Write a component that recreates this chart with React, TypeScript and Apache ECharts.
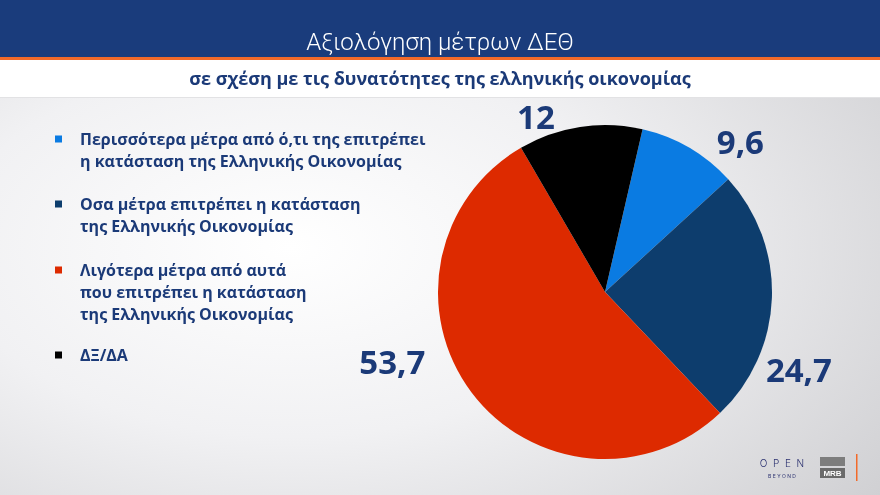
import React, { useEffect, useRef } from "react";
import * as echarts from "echarts";

const categories = [
  "Περισσότερα μέτρα από ό,τι της επιτρέπει\nη κατάσταση της Ελληνικής Οικονομίας",
  "Οσα μέτρα επιτρέπει η κατάσταση\nτης Ελληνικής Οικονομίας",
  "Λιγότερα μέτρα από αυτά\nπου επιτρέπει η κατάσταση\nτης Ελληνικής Οικονομίας",
  "ΔΞ/ΔΑ",
];
const values = [9.6, 24.7, 53.7, 12];
const sliceColors = ["#0a7be2", "#0d3d6d", "#dd2a00", "#000000"];
const titleText = "Αξιολόγηση μέτρων ΔΕΘ";
const subtitleText = "σε σχέση με τις δυνατότητες της ελληνικής οικονομίας";

// label nudges (style only)
const labelNudge = [
  [15, 7],
  [-26, 71],
  [-29, -40],
  [-18, 4],
];

const NAVY = "#1b3a78";

const iconPath = (h: number) => `path://M0,0L7,0L7,7L0,7Z M20,${h}L19.99,${h}`;

export default function App() {
  const ref = useRef<HTMLDivElement>(null);
  useEffect(() => {
    if (!ref.current) return;
    const chart = echarts.init(ref.current, null, { renderer: "svg" });
    const legendCommon = {
      orient: "vertical" as const,
      left: 55,
      padding: 0,
      itemWidth: 20,
      selectedMode: false,
      itemStyle: { borderWidth: 0 },
      textStyle: {
        color: NAVY,
        fontWeight: "bold" as const,
        fontSize: 16,
        lineHeight: 22,
        fontFamily: "Open Sans",
      },
    };
    chart.setOption({
      animation: false,
      backgroundColor: {
        type: "radial",
        x: 0.33,
        y: 0.5,
        r: 0.85,
        colorStops: [
          { offset: 0, color: "#ffffff" },
          { offset: 0.45, color: "#f1f1f3" },
          { offset: 1, color: "#cfcfd2" },
        ],
      },
      graphic: [
        { type: "rect", shape: { x: 0, y: 0, width: 880, height: 57 }, style: { fill: "#1a3c7c" } },
        { type: "rect", shape: { x: 0, y: 57, width: 880, height: 3 }, style: { fill: "#f26a2a" } },
        { type: "rect", shape: { x: 0, y: 60, width: 880, height: 38 }, style: { fill: "#ffffff" } },
        { type: "rect", shape: { x: 0, y: 97, width: 880, height: 1 }, style: { fill: "#e2e2e4" } },
        {
          type: "text",
          x: 440,
          y: 42,
          style: {
            text: titleText,
            fill: "#ffffff",
            fontSize: 24,
            fontWeight: 300,
            fontFamily: "Roboto",
            align: "center",
            verticalAlign: "middle",
          },
        },
        {
          type: "text",
          x: 440,
          y: 78,
          style: {
            text: subtitleText,
            fill: NAVY,
            fontSize: 18,
            fontWeight: "bold",
            fontFamily: "Open Sans",
            align: "center",
            verticalAlign: "middle",
          },
        },
        {
          type: "text",
          x: 782,
          y: 463,
          style: {
            text: "O  P  E  N",
            fill: "#2b3170",
            fontSize: 10,
            fontFamily: "Inter",
            fontWeight: 300,
            align: "center",
            verticalAlign: "middle",
          },
        },
        {
          type: "text",
          x: 782,
          y: 476,
          style: {
            text: "B E Y O N D",
            fill: "#2b3170",
            fontSize: 5,
            fontFamily: "Inter",
            align: "center",
            verticalAlign: "middle",
          },
        },
        { type: "rect", shape: { x: 820, y: 457, width: 25, height: 9 }, style: { fill: "#7d7d7d" } },
        { type: "rect", shape: { x: 820, y: 468, width: 25, height: 10 }, style: { fill: "#6a6a6a" } },
        {
          type: "text",
          x: 832.5,
          y: 473.5,
          style: {
            text: "MRB",
            fill: "#ffffff",
            fontSize: 8,
            fontWeight: "bold",
            fontFamily: "Liberation Sans",
            align: "center",
            verticalAlign: "middle",
          },
        },
        { type: "rect", shape: { x: 856, y: 454, width: 1.5, height: 27 }, style: { fill: "#f26a2a" } },
      ],
      legend: [
        {
          ...legendCommon,
          data: [categories[0], categories[1]],
          top: 128,
          itemHeight: 29,
          itemGap: 21,
          icon: iconPath(29),
        },
        {
          ...legendCommon,
          data: [categories[2]],
          top: 259,
          itemHeight: 51,
          icon: iconPath(51),
        },
        {
          ...legendCommon,
          data: [categories[3]],
          top: 344,
          itemHeight: 7,
          icon: iconPath(7),
        },
      ],
      series: [
        {
          type: "pie",
          center: [605, 292],
          radius: 167,
          startAngle: 77,
          clockwise: true,
          avoidLabelOverlap: false,
          itemStyle: { borderWidth: 0 },
          label: {
            show: true,
            position: "outside",
            color: NAVY,
            fontSize: 33,
            fontWeight: "bold",
            fontFamily: "Open Sans",
            formatter: (p: any) => String(p.value).replace(".", ","),
          },
          labelLine: { show: false, length: 15, length2: 0 },
          emphasis: { disabled: true },
          labelLayout: (p: any) => ({ dx: labelNudge[p.dataIndex][0], dy: labelNudge[p.dataIndex][1] }),
          data: categories.map((name, i) => ({
            name,
            value: values[i],
            itemStyle: { color: sliceColors[i] },
          })),
        },
      ],
    });
    return () => chart.dispose();
  }, []);
  return (
    <div
      ref={ref}
      style={{ position: "fixed", left: 0, top: 0, width: 880, height: 495 }}
    />
  );
}
